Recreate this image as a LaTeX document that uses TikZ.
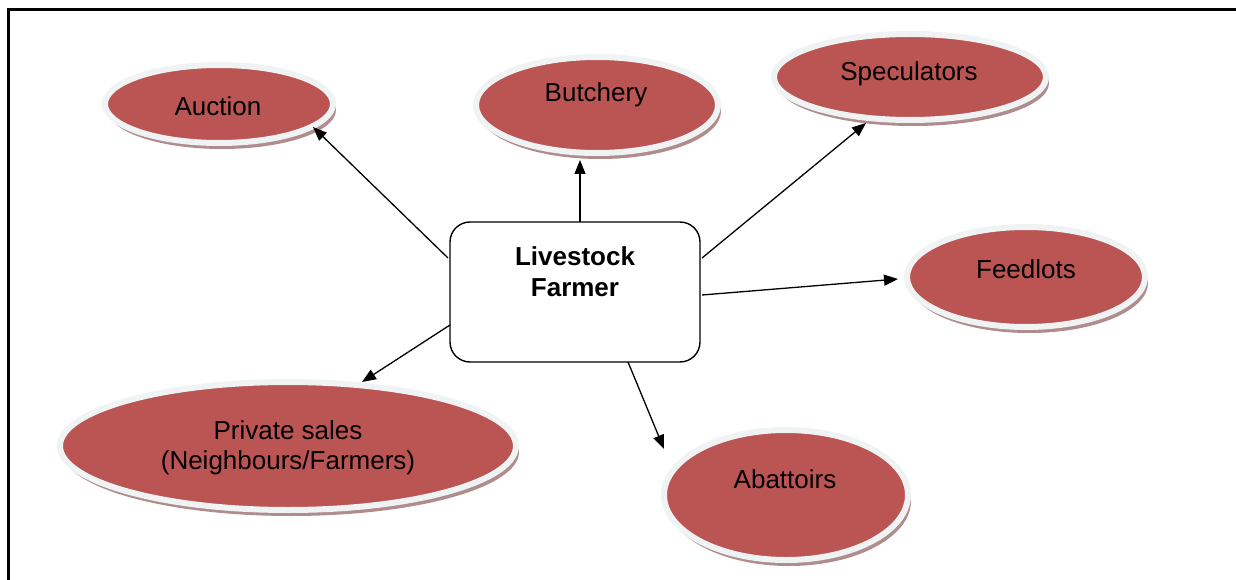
\documentclass[tikz,border=0pt]{standalone}
\usepackage{fontspec}
\setmainfont{Liberation Sans}
\usetikzlibrary{shapes.geometric,arrows.meta,calc,shadows}

\definecolor{outletred}{RGB}{187,85,83}
\definecolor{outletring}{RGB}{240,243,243}
\definecolor{outletshade}{RGB}{176,140,141}

\tikzset{
  outlet/.style={ellipse, inner sep=0pt, fill=outletred, draw=outletring,
    line width=6pt,
    drop shadow={shadow xshift=3pt, shadow yshift=-6pt, fill=outletshade, opacity=1}},
  outlettext/.style={font=\fontsize{26}{30}\selectfont, align=center, inner sep=0pt},
  hub/.style={draw=black, line width=1.4pt, rounded corners=20pt, fill=white,
    minimum width=250pt, minimum height=140pt, inner sep=0pt},
  hubtext/.style={font=\bfseries\fontsize{26}{31}\selectfont, align=center, inner sep=0pt},
  link/.style={draw=black, line width=1.3pt, -{Triangle[length=14pt,width=11pt]}},
}

\begin{document}
\begin{tikzpicture}[x=1pt,y=-1pt]
  \useasboundingbox (0,0) rectangle (1236,580);
  \clip (0,0) rectangle (1236,580);

  % outer frame (runs off the right and bottom edges)
  \draw[line width=3pt] (1250,9.5) -- (8,9.5) -- (8,600);

  % market outlets
  \node[outlet, minimum width=228pt, minimum height=78pt]  (auction)     at (219,104) {};
  \node[outlet, minimum width=242pt, minimum height=96pt]  (butchery)    at (597,105) {};
  \node[outlet, minimum width=272pt, minimum height=86pt]  (speculators) at (910,77)  {};
  \node[outlet, minimum width=238pt, minimum height=100pt] (feedlots)    at (1026,277) {};
  \node[outlet, minimum width=456pt, minimum height=128pt] (private)     at (288,446) {};
  \node[outlet, minimum width=244pt, minimum height=130pt] (abattoirs)   at (786,495) {};

  \node[outlettext] (auctiontxt)     at (218,106) {Auction};
  \node[outlettext] (butcherytxt)    at (596,95)  {Butchery};
  \node[outlettext] (speculatorstxt) at (909,74)  {Speculators};
  \node[outlettext] (feedlotstxt)    at (1026,269) {Feedlots};
  \node[outlettext] (privatetxt)     at (288,448) {Private sales\\(Neighbours/Farmers)};
  \node[outlettext] (abattoirstxt)   at (785,479) {Abattoirs};

  % central farmer box
  \node[hub] (farmer) at (575,292) {};
  \node[hubtext] (farmertxt) at (575,272) {Livestock\\Farmer};

  % marketing channels
  \draw[link] ($(farmer.center)+(-127,-34)$) -- ($(auction.center)+(94,23)$);
  \draw[link] ($(farmer.center)+(5,-70)$)    -- ($(butchery.center)+(-17,55)$);
  \draw[link] ($(farmer.center)+(127,-34)$)  -- ($(speculators.center)+(-44,46)$);
  \draw[link] ($(farmer.center)+(127,3)$)    -- ($(feedlots.center)+(-128,2)$);
  \draw[link] ($(farmer.center)+(-125,33)$)  -- ($(private.center)+(74,-64)$);
  \draw[link] ($(farmer.center)+(53,70)$)    -- ($(abattoirs.center)+(-122,-46)$);
\end{tikzpicture}
\end{document}
